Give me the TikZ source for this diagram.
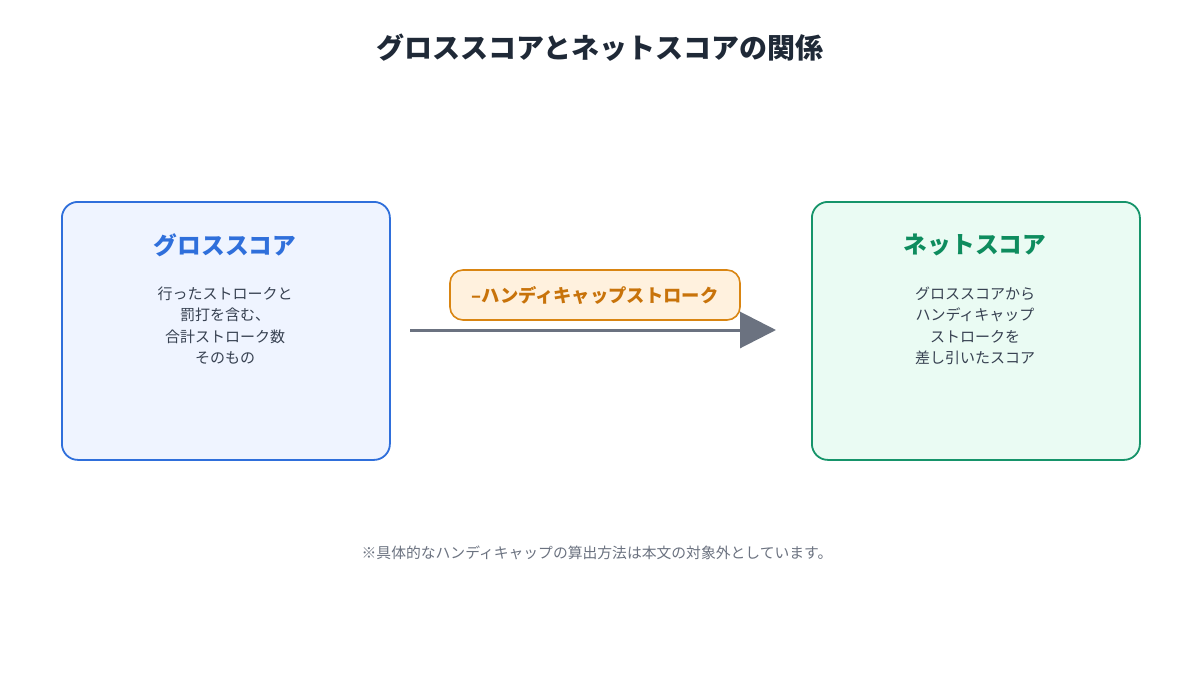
\documentclass[tikz,border=0pt]{standalone}
\usepackage{fontspec}
\setmainfont{Noto Sans CJK JP}
\usetikzlibrary{arrows.meta}
\definecolor{ttl}{HTML}{1F2937}
\definecolor{bstroke}{HTML}{2F6FDB}
\definecolor{bfill}{HTML}{EFF4FF}
\definecolor{gstroke}{HTML}{16946A}
\definecolor{gfill}{HTML}{EAFBF3}
\definecolor{gtext}{HTML}{0E8C5E}
\definecolor{ostroke}{HTML}{D98512}
\definecolor{ofill}{HTML}{FFF1DE}
\definecolor{otext}{HTML}{C8730A}
\definecolor{arr}{HTML}{6B7280}
\definecolor{body}{HTML}{374151}
\begin{document}
\begin{tikzpicture}[x=1pt,y=-1pt,
  box/.style={draw,line width=1.8pt,rounded corners=16pt,minimum width=328pt,minimum height=258pt,anchor=north west},
  head/.style={font=\fontsize{23.7}{28}\selectfont\bfseries},
  txt/.style={font=\fontsize{15}{21.5}\selectfont,text=body,align=center}]
\useasboundingbox[fill=white] (0,0) rectangle (1200,675);
\node[font=\fontsize{28}{32}\selectfont\bfseries,text=ttl] (title) at (600,48) {グロススコアとネットスコアの関係};
\node[box,draw=bstroke,fill=bfill] (gross) at (61,201) {};
\node[box,draw=gstroke,fill=gfill] (net) at (811,201) {};
\node[head,text=bstroke] (gh) at (225,245) {グロススコア};
\node[head,text=gtext] (nh) at (975,245) {ネットスコア};
\node[txt,anchor=north] (gt) at (225,283) {行ったストロークと\\罰打を含む、\\合計ストローク数\\そのもの};
\node[txt,anchor=north] (nt) at (975,283) {グロススコアから\\ハンディキャップ\\ストロークを\\差し引いたスコア};
\coordinate (a1) at (410,330);
\coordinate (a2) at (776,330);
\draw[arr,line width=3pt,-{Triangle[length=36pt,width=36pt]}] (a1) -- (a2);
\node[draw=ostroke,fill=ofill,line width=1.6pt,rounded corners=13pt,minimum width=290pt,minimum height=50pt,text=otext,font=\fontsize{18.3}{22}\selectfont\bfseries] (lbl) at (595,295) {–ハンディキャップストローク};
\node[font=\fontsize{14.8}{18}\selectfont,text=arr] (foot) at (597,553) {※具体的なハンディキャップの算出方法は本文の対象外としています。};
\end{tikzpicture}
\end{document}
